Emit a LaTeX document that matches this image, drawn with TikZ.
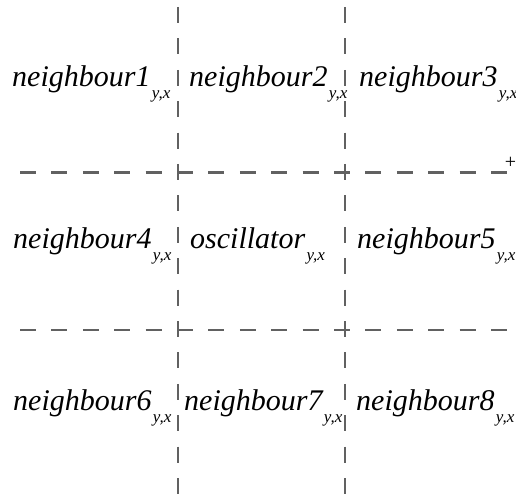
\documentclass[tikz,border=0pt]{standalone}
\usepackage{fontspec}
\newfontfamily\tms{Liberation Serif}
\begin{document}
\begin{tikzpicture}[x=1pt,y=-1pt,
  gridline/.style={draw=black!62,line width=2.5pt,dash pattern=on 16pt off 15.4pt},
  lbl/.style={anchor=base west,inner sep=0pt,font=\tms\fontsize{30}{32}\selectfont\itshape},
  sub/.style={anchor=base west,inner sep=0pt,xshift=1pt,yshift=-12pt,font=\tms\fontsize{17}{19}\selectfont\itshape}]
\useasboundingbox (0,0) rectangle (516,494);
% grid
\coordinate (v1t) at (178,7);   \coordinate (v1b) at (178,494);
\coordinate (v2t) at (345,7);   \coordinate (v2b) at (345,494);
\coordinate (h1l) at (20,172.5);  \coordinate (h1r) at (508,172.5);
\coordinate (h2l) at (20,330);  \coordinate (h2r) at (508,330);
\draw[gridline] (v1t) -- (v1b);
\draw[gridline] (v2t) -- (v2b);
\draw[gridline] (h1l) -- (h1r);
\draw[gridline] (h2l) -- (h2r);
\node[inner sep=0pt,font=\tms\fontsize{20}{20}\selectfont] (plus) at (510.5,162.5) {+};
% labels row 1
\node[lbl] (n1) at (12,87) {neighbour1};
\node[sub] (s1) at (n1.base east) {y,x};
\node[lbl] (n2) at (189,87) {neighbour2};
\node[sub] (s2) at (n2.base east) {y,x};
\node[lbl] (n3) at (359,87) {neighbour3};
\node[sub] (s3) at (n3.base east) {y,x};
% row 2
\node[lbl] (n4) at (13,248) {neighbour4};
\node[sub] (s4) at (n4.base east) {y,x};
\node[lbl] (osc) at (190,248) {oscillator};
\node[sub] (so) at (osc.base east) {y,x};
\node[lbl] (n5) at (357,248) {neighbour5};
\node[sub] (s5) at (n5.base east) {y,x};
% row 3
\node[lbl] (n6) at (13,410) {neighbour6};
\node[sub] (s6) at (n6.base east) {y,x};
\node[lbl] (n7) at (184,410) {neighbour7};
\node[sub] (s7) at (n7.base east) {y,x};
\node[lbl] (n8) at (356,410) {neighbour8};
\node[sub] (s8) at (n8.base east) {y,x};
\end{tikzpicture}
\end{document}
